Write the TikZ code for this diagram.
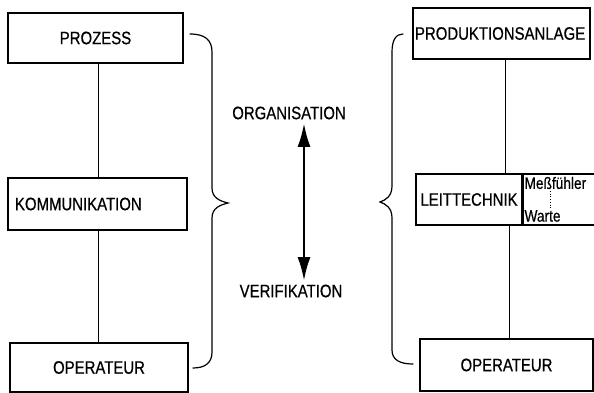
\documentclass[tikz,border=0pt]{standalone}
\usepackage{fontspec}
\setmainfont{Liberation Sans}[FakeStretch=0.83, FakeBold=0.6]
\usetikzlibrary{arrows.meta}
\begin{document}
\begin{tikzpicture}[x=1pt,y=-1pt,
  box/.style={draw, line width=1.1pt, rectangle, inner sep=0pt},
  lab/.style={font=\fontsize{18}{20}\selectfont},
  small/.style={font=\fontsize{16.5}{18}\selectfont},
  link/.style={line width=0.8pt},
  brace/.style={line width=1.2pt, line cap=round},
  bigarrow/.style={{Latex[length=24pt,width=13pt]}-{Latex[length=24pt,width=13pt]}, line width=2.8pt}]
\useasboundingbox (0,0) rectangle (594,393);

% left column
\node[box, minimum width=175pt, minimum height=50pt, lab] (proz) at (95.5,38) {PROZESS};
\node[box, minimum width=179pt, minimum height=52pt, lab, text width=165pt, inner xsep=7pt, align=left] (komm) at (97.5,204) {KOMMUNIKATION};
\node[box, minimum width=178pt, minimum height=49pt, lab] (opl) at (99,367.5) {OPERATEUR};
\coordinate (cl) at (98,0);
\draw[link] (proz.south -| cl) -- (komm.north -| cl);
\draw[link] (komm.south -| cl) -- (opl.north -| cl);

% right column
\node[box, minimum width=177pt, minimum height=51pt, lab, text width=173pt, inner xsep=2pt, align=left] (prod) at (501.5,33.5) {PRODUKTIONSANLAGE};
\node[box, minimum width=106pt, minimum height=51pt, lab] (leit) at (469,199.5) {LEITTECHNIK};
\node[box, minimum width=71pt, minimum height=51pt, anchor=west] (mess) at (leit.east) {};
\node[small, anchor=west] (mf) at (521,183) {Meßfühler};
\node[small, anchor=west] (wa) at (521,216) {Warte};
\draw[dotted, line width=0.7pt] (550,191) -- (550,209);
\node[box, minimum width=173pt, minimum height=52pt, lab] (opr) at (506.5,365) {OPERATEUR};
\coordinate (cr1) at (505,0);
\coordinate (cr2) at (509,0);
\draw[link] (prod.south -| cr1) -- (leit.north -| cr1);
\draw[link] (leit.south -| cr2) -- (opr.north -| cr2);

% braces
\draw[brace] (190,34) .. controls (205,34) and (212,40) .. (212,52)
  -- (212,188) .. controls (212,198) and (220,201) .. (228,203)
  .. controls (220,205) and (212,208) .. (212,218)
  -- (212,352) .. controls (212,363) and (205,368) .. (193,368);
\draw[brace] (403,34) .. controls (396,34) and (392,40) .. (392,52)
  -- (392,186) .. controls (392,196) and (386,200) .. (380,202)
  .. controls (386,204) and (392,208) .. (392,218)
  -- (392,350) .. controls (392,360) and (400,364) .. (413,364);

% middle
\node[lab] (org) at (289,113) {ORGANISATION};
\node[lab] (ver) at (291,291) {VERIFIKATION};
\coordinate (ax) at (304,0);
\draw[bigarrow] (org.south -| ax) -- (ver.north -| ax);
\end{tikzpicture}
\end{document}
